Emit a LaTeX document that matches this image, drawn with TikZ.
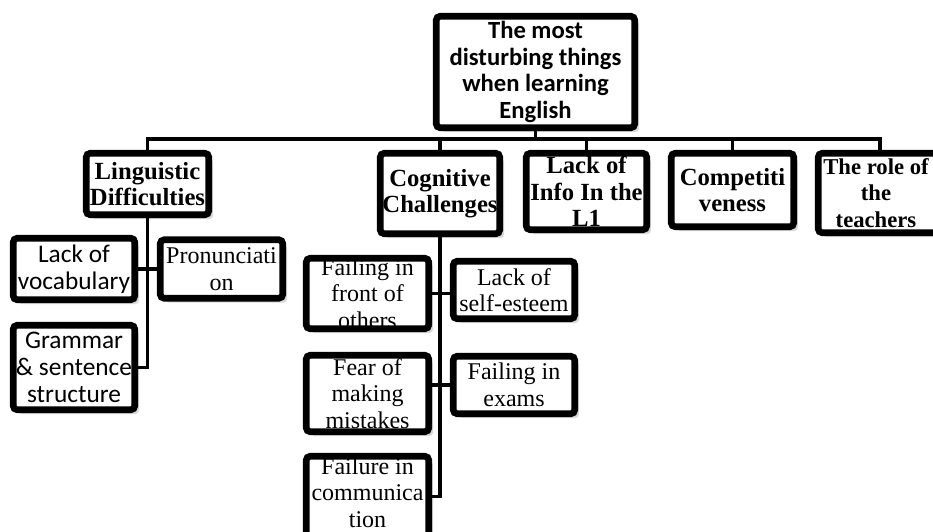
\documentclass[tikz,border=0pt]{standalone}
\usepackage{fontspec}
\setmainfont{Liberation Serif}
\setsansfont{Carlito}
\usetikzlibrary{shadows,calc}

\begin{document}
\begin{tikzpicture}[
    x=0.75pt, y=-0.75pt,
    cell/.style 2 args={rectangle, rounded corners=3pt, fill=white, inner sep=0pt,
        minimum width=#1*0.75pt, minimum height=#2*0.75pt,
        drop shadow={shadow xshift=3.5pt, shadow yshift=-3.5pt, opacity=0.3}},
    rim/.style={draw=black, line width=5pt, rounded corners=3pt},
    conn/.style={draw=black, line width=2.8pt},
    headtext/.style={font=\sffamily\bfseries\fontsize{18.5}{20}\selectfont, align=center, inner sep=0pt},
    cattext/.style={font=\rmfamily\bfseries\fontsize{18.5}{20}\selectfont, align=center, inner sep=0pt},
    subtext/.style={font=\sffamily\fontsize{19}{20}\selectfont, align=center, inner sep=0pt},
    itemtext/.style={font=\rmfamily\fontsize{18}{20}\selectfont, align=center, inner sep=0pt},
]
\useasboundingbox (0,0) rectangle (933,532);

% ============ ROOT ============
\node[cell={198}{111}] (top) at (535.5,72) {};

% ============ CATEGORIES ============
\node[cell={122}{61}] (ling) at (147.5,184) {};
\node[cell={119}{80}] (cog) at (440,193.5) {};
\node[cell={120}{76}] (info) at (586.5,191.5) {};
\node[cell={122}{73}] (comp) at (732.5,190) {};
\node[cell={123}{79}] (teach) at (880,193) {};

% ============ LINGUISTIC ITEMS ============
\node[cell={121}{61}] (vocab) at (74,269) {};
\node[cell={122}{58}] (pron) at (221.5,269) {};
\node[cell={121}{84}] (gram) at (74,367.5) {};

% ============ COGNITIVE ITEMS ============
\node[cell={122}{70}] (front) at (367.5,293.5) {};
\node[cell={121}{57}] (esteem) at (514,290) {};
\node[cell={122}{76}] (fear) at (367.5,393.5) {};
\node[cell={121}{57}] (exams) at (514,385) {};
\node[cell={122}{80}] (comm) at (367.5,496.5) {};

% ============ CONNECTORS ============
\coordinate (bus) at (535.5,139);
\draw[conn] (top.south) -- (top.south |- bus);
\draw[conn] (ling.north) |- (bus) -| (teach.north);
\draw[conn] (cog.north) -- (cog.north |- bus);
\draw[conn] (info.north) -- (info.north |- bus);
\draw[conn] (comp.north) -- (comp.north |- bus);

\draw[conn] (ling.south) |- (gram.east);
\draw[conn] (vocab.east) -- (pron.west);

\draw[conn] (cog.south) |- (comm.east);
\draw[conn] (front.east) -- (front.east -| esteem.west);
\draw[conn] (exams.west) -- (exams.west -| fear.east);

% ============ TEXTS ============
\node[headtext] (top-t) at (top) {The most\\disturbing things\\when learning\\English};

\node[cattext] (ling-t) at (ling) {Linguistic\\Difficulties};
\node[cattext] (cog-t) at (cog) {Cognitive\\Challenges};
\node[cattext] (info-t) at (info) {Lack of\\Info In the\\L1};
\node[cattext] (comp-t) at (comp) {Competiti\\veness};
\node[cattext, font=\rmfamily\bfseries\fontsize{17}{20}\selectfont, xshift=-3pt] (teach-t) at (teach) {The role of\\the\\teachers};

\node[subtext] (vocab-t) at (vocab) {Lack of\\vocabulary};
\node[itemtext] (pron-t) at (pron) {Pronunciati\\on};
\node[subtext] (gram-t) at (gram) {Grammar\\\& sentence\\structure};

\node[itemtext] (front-t) at (front) {Failing in\\front of\\others};
\node[itemtext] (esteem-t) at (esteem) {Lack of\\self-esteem};
\node[itemtext] (fear-t) at (fear) {Fear of\\making\\mistakes};
\node[itemtext] (exams-t) at (exams) {Failing in\\exams};
\node[itemtext, yshift=3pt] (comm-t) at (comm) {Failure in\\communica\\tion};

% frames on top, so overlong text runs under them
\foreach \n in {top,ling,cog,info,comp,teach,vocab,pron,gram,front,esteem,fear,exams,comm}
    \draw[rim] (\n.north west) rectangle (\n.south east);

\end{tikzpicture}
\end{document}
